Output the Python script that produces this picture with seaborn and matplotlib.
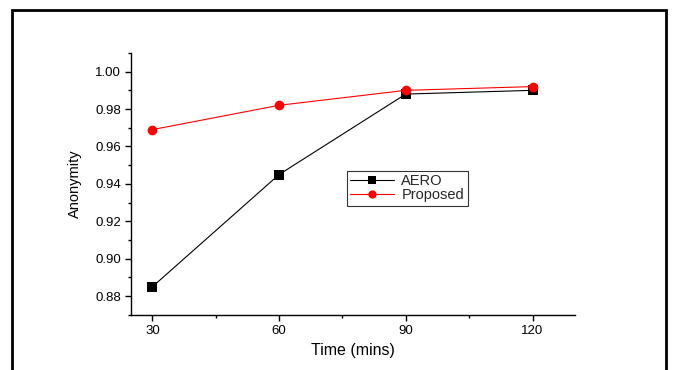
import matplotlib
matplotlib.use("Agg")
import matplotlib.pyplot as plt
import seaborn as sns
import pandas as pd
from matplotlib.patches import Rectangle
from matplotlib.ticker import MultipleLocator

# data
time_mins = [30, 60, 90, 120]
aero = [0.885, 0.945, 0.988, 0.990]
proposed = [0.969, 0.982, 0.990, 0.992]

df = pd.DataFrame({"time": time_mins * 2,
                   "value": aero + proposed,
                   "method": ["AERO"] * 4 + ["Proposed"] * 4})

sns.set_theme(style="ticks")
plt.rcParams["font.family"] = ["Liberation Sans", "DejaVu Sans"]

fig = plt.figure(figsize=(6.73, 3.70), dpi=100)
ax = fig.add_axes([0.195, 0.149, 0.659, 0.708])

sns.lineplot(data=df, x="time", y="value", hue="method", style="method",
             palette={"AERO": "black", "Proposed": "red"},
             markers={"AERO": "s", "Proposed": "o"}, dashes=False,
             markersize=7, linewidth=0.8, markeredgewidth=0, ax=ax)

ax.set_xlim(25, 130)
ax.set_ylim(0.87, 1.01)
ax.xaxis.set_major_locator(MultipleLocator(30))
ax.xaxis.set_minor_locator(MultipleLocator(15))
ax.yaxis.set_major_locator(MultipleLocator(0.02))
ax.yaxis.set_minor_locator(MultipleLocator(0.01))
ax.set_yticklabels([f"{v:.2f}" for v in ax.get_yticks()])
ax.tick_params(which="major", length=4, width=1, labelsize=9.5, color="black", labelcolor="black")
ax.tick_params(which="minor", length=2, width=1, color="black")
for s in ["top", "right"]:
    ax.spines[s].set_visible(False)
for s in ["left", "bottom"]:
    ax.spines[s].set_color("black")
    ax.spines[s].set_linewidth(1)

ax.set_xlabel("Time (mins)", fontsize=11.5, color="black", labelpad=4)
ax.set_ylabel("Anonymity", fontsize=10.5, color="black", labelpad=9)

leg = ax.legend(loc="upper left", bbox_to_anchor=(0.486, 0.55), borderaxespad=0,
                fontsize=10.5, frameon=True, fancybox=False, handlelength=3,
                borderpad=0.25, labelspacing=0.0, handletextpad=0.5, markerscale=0.85)
leg.get_frame().set_edgecolor("black")
leg.get_frame().set_linewidth(0.8)

# outer frame of the picture
fig.patches.append(Rectangle((12 / 673, -0.05), 654 / 673, 1.05 - 10 / 370,
                             transform=fig.transFigure, fill=False,
                             edgecolor="black", linewidth=2, clip_on=False))

fig.savefig("out.png", dpi=100)
